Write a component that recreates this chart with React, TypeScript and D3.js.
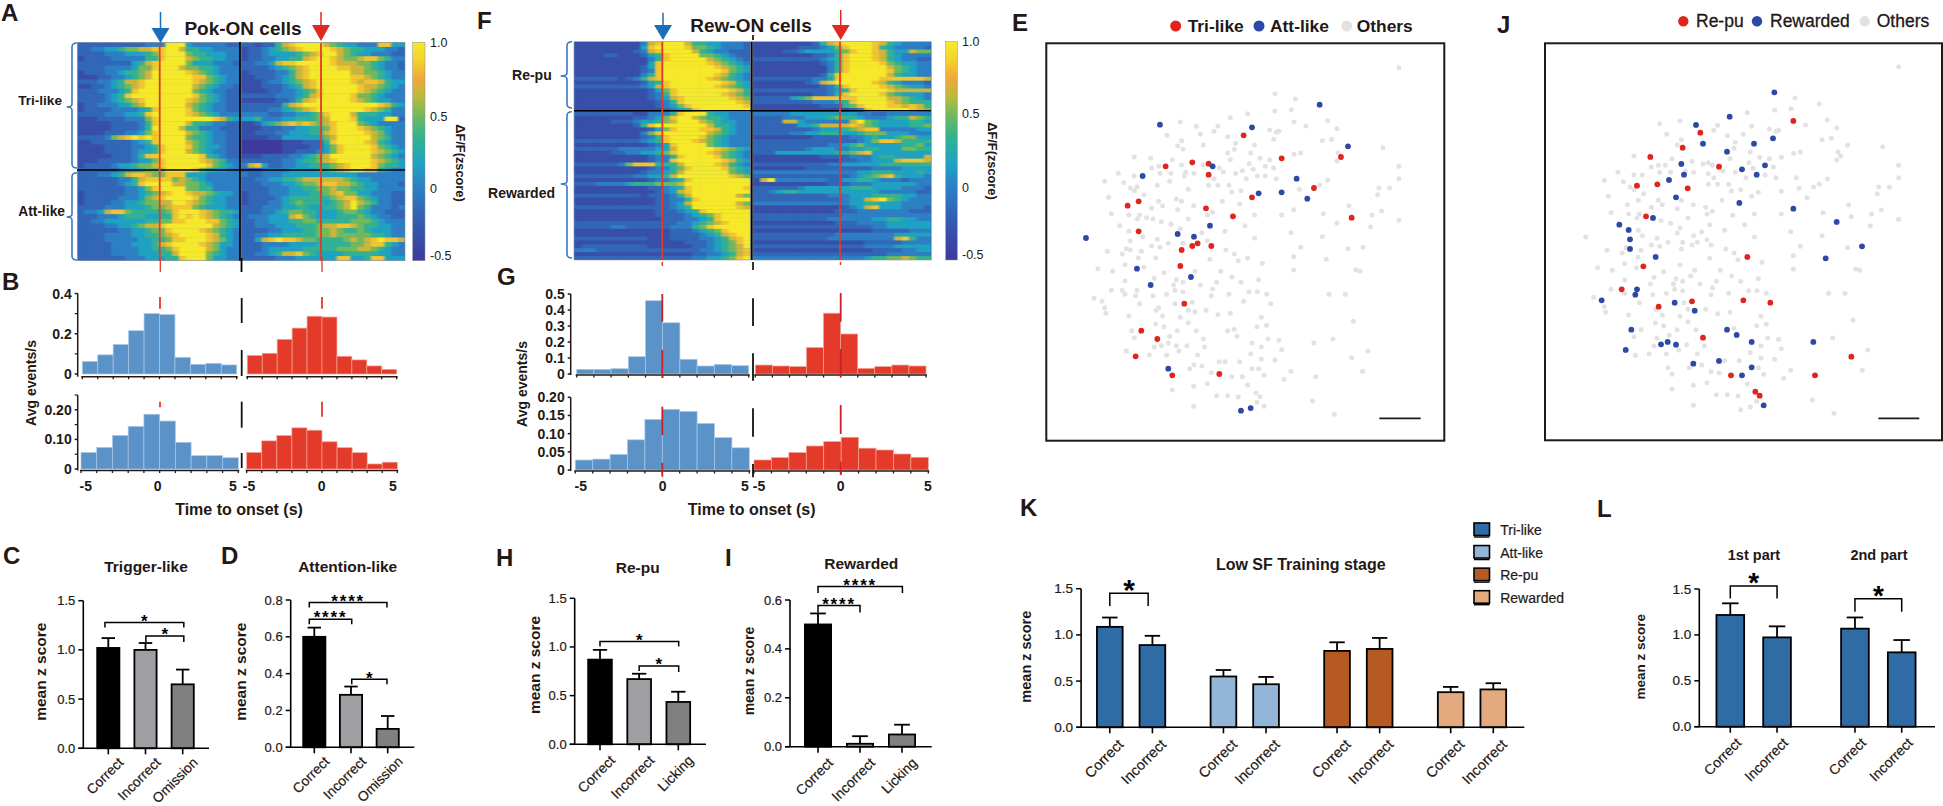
import React from "react";
import * as d3 from "d3";

const ink = "#231815";
const braceBlue = "#3a7cbc";
const histBlue = "#5b93c8";
const histRed = "#e43a2a";
const dotRed = "#e0251e";
const dotBlue = "#2b4aa8";
const dotGray = "#e2e2e2";

// Heatmaps: one character per time bin, 0 = -0.5 ... 9 = 1.0 zscore
const pokLeft = [
"222222222233399943333322","223344566778899755443333","222233344456899965544433","122223333355899976554433",
"222222224578999964443332","222233334668999766554333","122233455679999987654333","111223345679999998865433",
"222334577899999998765433","112234567899999997654332","222333458999999996543322","222234589999999998654322",
"222234567899999987654322","122333446799999976543322","122223333458999986543322","222233344589999987654333",
"111222233368999999998754","111112222358999975543322","111112222359999755333222","111122233468999976543322",
"222236789898999965543322","112222223458999976543322","111122223345899986544322","111122223445899976543322",
"111112223588999999854322","111222223446899999876533","122223445667899999986543","222222344566799998654433",
"222334578876688844433333","222222335788886765433333","222222345899997766543333","222222233468999966553333",
"122222233456789987765443","122222333467899998654433","122223344566779987654433","222233344456678886544433",
"233478865555568999876554","222333455544558989876543","223344444455668899988654","222233445677899999997654",
"222222334456689999876543","222233334455678999987543","222233333445568899987643","222223334445789999876443",
"222223333445568999976433","222223333444557999965433","222222233344455899964433"];
const pokRight = [
"221225789999765443338844","122345678999987655444332","122344445678997654433322","122334455789987667886533",
"223347889999987776654332","222234567899998877654332","122223357899999977665433","112223457899999988765433",
"111233456789999987887544","111222345789999998776543","111122334568999998765433","222223334578999986654333",
"111112235789999987654433","222222578999999999998754","222233456789999999876533","333322334456899975554433",
"445333445556799985444992","112456787876789996543333","111222334455689998765433","112223344455789999876433",
"111122444444679999976533","000000111222589999875433","000000111122468999986543","000000112223468999987654",
"111222233456799999976543","222222334556789999987654","378422334455567899986554","222333344445567899885433",
"322333444444444443333333","223344556777777654433333","222333445667887765443332","222233344556676655443333",
"122233344455678664433322","122223455555567886543322","122233456555456797653322","222333445544556796533323",
"222334566554445665433222","233344478654445556543322","223344455665555566654333","223334445556778876554433",
"222233444556676556544433","223344555556676666655433","224789887665555676789887","222333344445555566788543",
"222344444555556667765433","223345778654444555554433","222223334444448844588444"];
const rewLeft = [
"111111111378999755443332","111111111489999866543332","111111112378999975433222","111122111245899996654322",
"111111111135899999765432","111111111148999999876543","111111111248999999987654","111111111238999999998654",
"111111111358999999987543","222222123578999999876543","111111111245899999998754","222222222347899999987654",
"111111111124689999999875","111111111123589999998765","111111111123478999999876","111111111112358999999987",
"111111111112346899999998","111111111111234589999999","222222221133358999544333","111111112234689976554333",
"111112223445679997654433","111111112589999999755433","111111111124689998875433","111111111368999999765433",
"111111111235899998654333","222222222345899987654333","111111111123489999654333","222222333334479999987654",
"111112233445689999876543","111111111123358999986543","111111111123389999998754","222222368885557999987543",
"111111111123356899998654","111111111233457999999654","222222223344579999999876","111111111123345899999999",
"222333345556667999999999","111111111122345899999998","111111111112347899999999","222222222122235799999976",
"111111111112233589999999","111111111112234799999976","222222222222234599999987","111111111112223458999999",
"111111111112222345689999","111111111111222334589999","222222222222223345678999","222223322222233356899999",
"111111111111122234568999","111111111111122223457899","222222222211122223345789","111111111111111222345689",
"122222222211111122345679","333222222222222223345678","111111111111111122334578","222222222222222233445689"];
const rewRight = [
"111111112578999987543333","111111222346899985433332","111122344445689987544766","111111112235899987543333",
"222222222345899987543322","111111111235899998654433","111111111135899999765433","111111111135899999865433",
"111111111258999999754433","222222223348999998888887","111111123789999987543332","111111111235899998765443",
"222222222234589999877777","111111112235899998654443","222224568888889999776543","222222223334589999876555",
"111111111222568999887875","111111111111123899999876","333334444444443322333333","222233344456554333455765",
"222277433333379654444554","222222445777787654444556","222222223444567883333344","222223344555445666444333",
"111111112222233454456644","222222222222223468875555","222222222233456444445564","222222234443344554446655",
"222444444445567844444444","111111111222233345544447","111111111111223344478887","222222222233444445555555",
"111111122222222233334444","333333333333334455544454","222222222222234567854443","179333333322445543332333",
"111111111122233344444433","222222344444455544443332","223455444444444443333322","222222222233344455554433",
"222222222222344789654333","333333333333344554443333","111111111111234784443332","111111111112223333333222",
"222222222222333333333333","222222222233333344554433","111111111112223333444444","222222222222222233444444",
"111111111111111122222333","222222222223333333344444","222222222233333333378533","111111111111111222223333",
"222222222222222333344444","111111111111111122223344","222222222222222222333333","333333333333333455667655"];

const cbValues = [-0.5, -0.25, 0, 0.17, 0.35, 0.5, 0.62, 0.75, 0.87, 1];
const cbColors = ["#3e3a9c", "#3559b0", "#2d7fc4", "#1fa3c2", "#34b38d", "#72b95c", "#b8bb3c", "#f0a93a", "#f3d12c", "#f5e92a"];
const cbTickLabels = ["1.0", "0.5", "0", "-0.5"];

// Event rates in 1 s bins from -5 to 5
const binStarts = [-5, -4, -3, -2, -1, 0, 1, 2, 3, 4];
const pokTopCorrect = [0.062, 0.095, 0.147, 0.215, 0.3, 0.295, 0.083, 0.048, 0.053, 0.045];
const pokTopReward = [0.092, 0.103, 0.172, 0.228, 0.287, 0.283, 0.088, 0.07, 0.04, 0.023];
const pokBotCorrect = [0.056, 0.073, 0.113, 0.144, 0.185, 0.162, 0.09, 0.045, 0.045, 0.038];
const pokBotReward = [0.056, 0.095, 0.113, 0.139, 0.131, 0.092, 0.072, 0.055, 0.017, 0.023];
const rewTopCorrect = [0.029, 0.029, 0.033, 0.108, 0.458, 0.32, 0.092, 0.05, 0.06, 0.052];
const rewTopReward = [0.056, 0.05, 0.046, 0.165, 0.38, 0.25, 0.035, 0.046, 0.056, 0.05];
const rewBotCorrect = [0.0275, 0.03, 0.043, 0.083, 0.139, 0.167, 0.161, 0.128, 0.089, 0.061];
const rewBotReward = [0.0275, 0.034, 0.048, 0.066, 0.078, 0.09, 0.06, 0.055, 0.044, 0.035];

// Bar panels
const grayFills = ["#000000", "#9d9fa3", "#808080"];
const labelsOmission = ["Correct", "Incorrect", "Omission"];
const labelsLicking = ["Correct", "Incorrect", "Licking"];
const cMeans = [1.02, 1.0, 0.65], cTops = [1.12, 1.07, 0.8];
const dMeans = [0.6, 0.285, 0.1], dTops = [0.65, 0.33, 0.17];
const hMeans = [0.87, 0.67, 0.435], hTops = [0.97, 0.725, 0.54];
const iMeans = [0.5, 0.012, 0.05], iTops = [0.545, 0.043, 0.09];
const kMeans = [1.087, 0.89, 0.55, 0.466, 0.827, 0.848, 0.38, 0.41];
const kTops = [1.188, 0.99, 0.62, 0.545, 0.92, 0.967, 0.437, 0.477];
const kFills = ["#2f6ba4", "#2f6ba4", "#93b6d8", "#93b6d8", "#b55a22", "#b55a22", "#e3aa80", "#e3aa80"];
const kLabels = ["Correct", "Incorrect", "Correct", "Incorrect", "Correct", "Incorrect", "Correct", "Incorrect"];
const kLegend = ["Tri-like", "Att-like", "Re-pu", "Rewarded"];
const kLegendFills = ["#2f6ba4", "#93b6d8", "#b55a22", "#e3aa80"];
const lMeans = [1.217, 0.973, 1.068, 0.81], lTops = [1.344, 1.093, 1.19, 0.944];
const lLabels = ["Correct", "Incorrect", "Correct", "Incorrect"];
const lFills = ["#2f6ba4", "#2f6ba4", "#2f6ba4", "#2f6ba4"];

// Cell map, in read-off units
const otherCells: [number, number][] = [
[1197,203],[825,281],[886,297],[825,333],[874,329],[743,341],[691,353],[541,366],[589,379],[654,379],[882,366],[918,378],[983,362],[1011,386],[809,390],[829,397],[837,394],[642,394],[601,402],[501,406],[683,410],[821,418],[967,422],[995,418],[545,422],[533,438],[549,448],[610,435],[707,430],[703,448],[764,435],[1149,443],[683,459],[752,459],[882,463],[902,459],[403,471],[452,475],[517,479],[691,479],[780,475],[809,479],[1015,459],[1011,483],[476,499],[455,504],[545,495],[610,495],[748,491],[796,499],[821,504],[760,508],[1197,499],[355,520],[403,528],[480,520],[513,520],[557,516],[553,528],[582,520],[658,504],[670,516],[707,520],[727,512],[772,528],[796,528],[739,536],[829,536],[642,536],[983,540],[1197,536],[314,544],[371,548],[509,544],[472,556],[626,556],[654,556],[687,556],[959,556],[391,564],[411,560],[403,572],[565,568],[695,576],[723,572],[898,568],[1137,564],[1169,564],[1133,584],[432,584],[326,592],[529,596],[545,604],[476,604],[488,617],[667,604],[719,612],[1047,617],[455,625],[533,629],[581,617],[638,637],[881,629],[1145,633],[334,641],[387,645],[419,645],[412,657],[440,653],[459,657],[484,665],[565,657],[622,645],[764,645],[845,645],[970,641],[1116,645],[1197,661],[1011,669],[359,677],[513,673],[735,677],[1112,681],[387,694],[541,686],[606,698],[675,694],[873,698],[428,710],[472,718],[391,722],[505,730],[549,730],[622,722],[764,714],[967,710],[455,738],[480,742],[379,746],[391,750],[322,754],[424,754],[678,750],[902,742],[1044,746],[1089,742],[367,762],[703,762],[415,774],[467,774],[630,778],[715,782],[743,774],[881,770],[979,778],[375,794],[432,802],[294,806],[338,814],[492,818],[585,814],[662,814],[787,790],[881,810],[1068,810],[1080,814],[463,835],[375,843],[529,839],[696,831],[776,839],[549,847],[521,855],[601,855],[650,847],[723,847],[638,867],[334,871],[367,871],[411,871],[375,883],[407,887],[459,887],[525,871],[549,875],[500,883],[634,887],[687,883],[747,875],[772,875],[800,883],[987,883],[1036,883],[282,895],[306,904],[731,904],[419,911],[525,911],[577,907],[812,911],[314,923],[476,923],[468,931],[565,931],[585,935],[618,931],[318,940],[387,948],[488,948],[541,952],[654,944],[691,940],[784,952],[565,968],[467,972],[492,980],[771,980],[800,976],[1060,964],[395,992],[532,992],[589,992],[683,992],[703,988],[403,1013],[509,1009],[610,1017],[711,1009],[804,1017],[837,1021],[999,1017],[505,1029],[756,1029],[942,1029],[484,1037],[463,1041],[529,1037],[561,1037],[614,1041],[784,1041],[379,1053],[537,1053],[845,1049],[1104,1053],[448,1065],[500,1065],[593,1065],[752,1061],[1055,1073],[784,1077],[825,1081],[658,1085],[675,1085],[719,1085],[582,1094],[606,1098],[569,1106],[756,1106],[776,1106],[634,1118],[873,1114],[1088,1114],[695,1130],[727,1130],[792,1126],[947,1130],[852,1138],[622,1151],[743,1155],[581,1159],[517,1170],[768,1179],[650,1187],[683,1187],[715,1191],[780,1190],[771,1207],[938,1203],[581,1219],[792,1219],[1003,1243]];
const triCells: [number, number][] = [[731,406],[497,499],[577,487],[626,491],[626,524],[845,475],[1023,471],[942,564],[756,592],[416,604],[383,617],[618,625],[699,649],[1055,653],[416,694],[593,730],[577,738],[634,738],[545,750],[541,798],[553,911],[424,992],[472,1017],[407,1069],[517,1126],[658,1122]];
const attCells: [number, number][] = [[959,314],[480,374],[756,382],[1044,439],[638,499],[428,528],[890,536],[776,580],[845,577],[922,596],[630,677],[533,702],[582,710],[258,714],[411,806],[573,831],[452,855],[505,1106],[723,1232],[752,1224]];
const repuCells: [number, number][] = [[910,363],[631,398],[578,443],[481,471],[687,500],[441,557],[502,553],[593,565],[468,649],[460,799],[772,771],[395,868],[506,920],[606,904],[760,901],[841,908],[639,1013],[1084,1070],[723,1126],[975,1126],[796,1175],[809,1187]];
const rewardedCells: [number, number][] = [[853,277],[719,350],[618,375],[849,415],[639,431],[792,431],[711,455],[574,492],[825,496],[582,524],[756,508],[800,524],[537,540],[558,592],[748,609],[910,626],[489,654],[388,674],[416,690],[1040,666],[420,718],[420,747],[497,771],[1116,739],[1007,775],[441,868],[436,884],[335,901],[554,908],[614,932],[424,989],[711,989],[740,1005],[785,1026],[970,1026],[513,1033],[533,1026],[558,1034],[407,1050],[687,1083],[610,1091],[785,1102],[756,1126],[821,1216]];

const heatColor = d3.scaleLinear<string>().domain(cbValues).range(cbColors).interpolate(d3.interpolateRgb);
const digitValue = d3.scaleLinear().domain([0, 9]).range([-0.5, 1]);

function T({ x, y, children, size = 13, weight = "normal", anchor = "start", rotate, fill = ink, mid = true, thick = 0 }: any) {
  return (
    <text x={rotate == null ? x : 0} y={rotate == null ? y : 0}
      transform={rotate == null ? undefined : `translate(${x},${y}) rotate(${rotate})`}
      fontSize={size} fontWeight={weight} textAnchor={anchor} fill={fill}
      stroke={thick ? fill : undefined} strokeWidth={thick || undefined}
      dominantBaseline={mid ? "central" : undefined}>{children}</text>
  );
}

function Letter({ x, y, c }: any) {
  return <text x={x} y={y} fontSize={24} fontWeight="bold" fill={ink}>{c}</text>;
}

function Heat({ rows, x0, x1, y0, y1, id }: any) {
  const col = d3.scaleBand<number>().domain(d3.range(24)).range([x0, x1]);
  const row = d3.scaleBand<number>().domain(d3.range(rows.length)).range([y0, y1]);
  return (
    <g>
      <clipPath id={id}><rect x={x0} y={y0} width={x1 - x0} height={y1 - y0} /></clipPath>
      <g clipPath={`url(#${id})`}>
        <rect x={x0} y={y0} width={x1 - x0} height={y1 - y0} fill="#2d6fbc" />
        <g filter="url(#smooth)">
          {rows.map((r: string, i: number) =>
            r.slice(0, 24).split("").map((c, j) => (
              <rect key={`${i}-${j}`} x={col(j)} y={row(i)} width={col.bandwidth() + 0.6} height={row.bandwidth() + 0.4}
                fill={heatColor(digitValue(+c))} />
            )))}
        </g>
      </g>
      <rect x={x0} y={y0} width={x1 - x0} height={y1 - y0} fill="none" stroke="#8a8f98" strokeWidth={0.6} />
    </g>
  );
}

function Colorbar({ x, w, y0, y1, labelYs, labelX, id }: any) {
  return (
    <g>
      <linearGradient id={id} x1="0" x2="0" y1="1" y2="0">
        {cbValues.map((v) => (
          <stop key={v} offset={(v + 0.5) / 1.5} stopColor={heatColor(v)} />
        ))}
      </linearGradient>
      <rect x={x} y={y0} width={w} height={y1 - y0} fill={`url(#${id})`} stroke="#8a8f98" strokeWidth={0.5} />
      {cbTickLabels.map((t, i) => (
        <T key={t} x={labelX} y={labelYs[i]} size={12.5}>{t}</T>
      ))}
    </g>
  );
}

function Brace({ x, tip, y0, y1, ym }: any) {
  const r = 3;
  const m = x - 5;
  const d = `M${x},${y0} Q${m},${y0} ${m},${y0 + r + 1} L${m},${ym - r} Q${m},${ym} ${tip},${ym} Q${m},${ym} ${m},${ym + r} L${m},${y1 - r - 1} Q${m},${y1} ${x},${y1}`;
  return <path d={d} fill="none" stroke={braceBlue} strokeWidth={1.6} />;
}

function Arrow({ x, y0, y1, y2, color }: any) {
  return (
    <g>
      <line x1={x} x2={x} y1={y0} y2={y1} stroke={color} strokeWidth={1.5} />
      <path d={`M${x - 9},${y1} L${x + 9},${y1} L${x},${y2} Z`} fill={color} />
    </g>
  );
}

function Hist({ values, x0, x1, yTop, yBase, max, fill, axisY, axisX, ticks, minor, fmt, tickSize = 14, xLabels, labelY, edge }: any) {
  const x = d3.scaleLinear().domain([-5, 5]).range([x0, x1]);
  const y = d3.scaleLinear().domain([0, max]).range([yBase, yTop]);
  return (
    <g>
      {values.map((v: number, i: number) => (
        <rect key={i} x={x(binStarts[i])} y={y(v)} width={x(binStarts[i] + 1) - x(binStarts[i])} height={yBase - y(v)}
          fill={fill} stroke={edge} strokeWidth={0.7} />
      ))}
      <line x1={x0 - 1} x2={x1 + 1} y1={axisY} y2={axisY} stroke={ink} strokeWidth={1.5} />
      {d3.range(-5, 6).map((t) => (
        <line key={t} x1={x(t)} x2={x(t)} y1={axisY} y2={axisY + 2.5} stroke={ink} strokeWidth={1.3} />
      ))}
      {axisX != null && (
        <g>
          <line x1={axisX} x2={axisX} y1={y(max)} y2={axisY} stroke={ink} strokeWidth={1.5} />
          {ticks.map((t: number) => (
            <g key={t}>
              <line x1={axisX - 3} x2={axisX} y1={y(t)} y2={y(t)} stroke={ink} strokeWidth={1.5} />
              <T x={axisX - 6} y={y(t)} anchor="end" size={tickSize} weight="bold">{fmt(t)}</T>
            </g>
          ))}
          {(minor || []).map((t: number) => (
            <line key={t} x1={axisX - 3} x2={axisX} y1={y(t)} y2={y(t)} stroke={ink} strokeWidth={1.2} />
          ))}
        </g>
      )}
      {xLabels && xLabels.map(([t, lx]: [string, number]) => (
        <T key={t} x={lx} y={labelY} anchor="middle" size={14} weight="bold">{t}</T>
      ))}
    </g>
  );
}

function Bars({ axisX, axisEnd, y0, y1, max, ticks, fmt = (d: number) => d.toFixed(1), pos, x0, x1, means, tops, fills, labels, barW,
  brackets = [], size = 13, labelSize = 14, labelDx = 16, labelDy = 17, starSize = 17, starDy = -5, axisStart }: any) {
  const x = d3.scaleLinear().domain([0, d3.max(pos) as number]).range([x0, x1]);
  const y = d3.scaleLinear().domain([0, max]).range([y0, y1]);
  return (
    <g>
      {means.map((m: number, i: number) => {
        const cx = x(pos[i]);
        return (
          <g key={i}>
            <line x1={cx} x2={cx} y1={y(m)} y2={y(tops[i])} stroke="#000" strokeWidth={1.8} />
            <line x1={cx - barW * 0.28} x2={cx + barW * 0.28} y1={y(tops[i])} y2={y(tops[i])} stroke="#000" strokeWidth={1.8} />
            <rect x={cx - barW / 2 + 0.9} y={y(m)} width={barW - 1.8} height={Math.max(y0 - y(m), 0)} fill={fills[i]} stroke="#000" strokeWidth={1.8} />
            <line x1={cx} x2={cx} y1={y0} y2={y0 + 6} stroke="#000" strokeWidth={1.6} />
            <T x={cx + labelDx} y={y0 + labelDy} anchor="end" size={labelSize} rotate={-45} mid={false} thick={0.2}>{labels[i]}</T>
          </g>
        );
      })}
      <line x1={axisX} x2={axisX} y1={y0} y2={y(max)} stroke="#000" strokeWidth={1.6} />
      <line x1={axisStart ?? axisX - 5} x2={axisEnd} y1={y0} y2={y0} stroke="#000" strokeWidth={1.6} />
      {ticks.map((t: number) => (
        <g key={t}>
          <line x1={axisX - 5} x2={axisX} y1={y(t)} y2={y(t)} stroke="#000" strokeWidth={1.5} />
          <T x={axisX - 8} y={y(t)} anchor="end" size={size} thick={0.2}>{fmt(t)}</T>
        </g>
      ))}
      {brackets.map((b: any, i: number) => {
        const xa = x(b.a), xb = x(b.b), yy = y(b.y);
        return (
          <g key={i}>
            <path d={`M${xa},${yy + b.tipL} L${xa},${yy} L${xb},${yy} L${xb},${yy + b.tipR}`} fill="none" stroke="#000" strokeWidth={1.5} />
            <text x={(xa + xb) / 2} y={yy + starDy + starSize * 0.55} textAnchor="middle" fontSize={starSize} fontWeight="bold" letterSpacing={b.stars.length > 1 ? 1.8 : 0} fill="#000">{b.stars}</text>
          </g>
        );
      })}
    </g>
  );
}

function Scatter({ xs, ys, cells, r, fill }: any) {
  return (
    <g>
      {cells.map(([a, b]: [number, number], i: number) => (
        <circle key={i} cx={xs(a)} cy={ys(b)} r={r} fill={fill} />
      ))}
    </g>
  );
}

function Box({ x0, x1, y0, y1, barX0, barX1, barY }: any) {
  return (
    <g>
      <rect x={x0} y={y0} width={x1 - x0} height={y1 - y0} fill="none" stroke={ink} strokeWidth={2} />
      <line x1={barX0} x2={barX1} y1={barY} y2={barY} stroke={ink} strokeWidth={1.8} />
    </g>
  );
}

const fmt1 = (d: number) => (d === 0 ? "0" : d.toFixed(1));
const fmt2 = (d: number) => (d === 0 ? "0" : d.toFixed(2));

export default function App() {
  const ex = d3.scaleLinear().domain([139, 1333]).range([1046.3, 1444.3]);
  const ey = d3.scaleLinear().domain([130, 1322]).range([43.3, 440.7]);
  const jx = d3.scaleLinear().domain([165, 1356]).range([1545, 1942]);
  const jy = d3.scaleLinear().domain([130, 1321]).range([43.3, 440.3]);
  const jgx = d3.scaleLinear().domain([136, 1327]).range([1545, 1942]);
  const jgy = d3.scaleLinear().domain([133, 1324]).range([43.3, 440.3]);
  const ly = d3.scaleLinear().domain([0, 3]).range([530, 597.7]);
  const red = "#e23a2a";
  const darkRed = "#c9202a";
  return (
    <svg width={1943} height={806} viewBox="0 0 1943 806"
      style={{ position: "absolute", left: 0, top: 0, display: "block", background: "#fff", fontFamily: "'Liberation Sans', Arial, sans-serif" }}>
      <defs>
        <filter id="smooth" x="-5%" y="-5%" width="110%" height="110%" colorInterpolationFilters="sRGB">
          <feGaussianBlur stdDeviation="1.2 0.4" />
        </filter>
      </defs>

      {/* A */}
      <Letter x={1} y={21} c="A" />
      <Heat id="h1" rows={pokLeft} x0={77.3} x1={239.7} y0={42.3} y1={260.7} />
      <Heat id="h2" rows={pokRight} x0={241} x1={405} y0={42.3} y1={260.7} />
      <line x1={77} x2={405} y1={170} y2={170} stroke="#000" strokeWidth={1.6} />
      <line x1={240} x2={240} y1={42} y2={260.7} stroke="#000" strokeWidth={1.8} />
      <line x1={241.5} x2={241.5} y1={258} y2={272} stroke="#000" strokeWidth={1.8} />
      <line x1={159.7} x2={159.7} y1={43} y2={260.7} stroke={red} strokeWidth={1.8} />
      <line x1={160.3} x2={160.3} y1={257} y2={272} stroke={red} strokeWidth={1.3} />
      <line x1={321} x2={321} y1={43} y2={260.7} stroke={red} strokeWidth={1.8} />
      <line x1={322} x2={322} y1={257} y2={272} stroke={red} strokeWidth={1.3} />
      <Arrow x={160.5} y0={12} y1={28} y2={43} color="#1a6fb8" />
      <Arrow x={321} y0={12} y1={25} y2={41} color="#e02a20" />
      <T x={243} y={28} anchor="middle" size={19} weight="bold">Pok-ON cells</T>
      <Colorbar id="cb1" x={412.7} w={12.3} y0={42.3} y1={260.7} labelX={430} labelYs={[43, 117, 189, 256]} />
      <T x={460} y={163} anchor="middle" size={12.8} weight="bold" rotate={90}>ΔF/F(zscore)</T>
      <Brace x={77} tip={66.7} y0={43} y1={168} ym={107} />
      <Brace x={77} tip={66.7} y0={172.7} y1={260} ym={217} />
      <T x={62} y={100} anchor="end" size={13.6} weight="bold">Tri-like</T>
      <T x={65} y={211} anchor="end" size={13.8} weight="bold">Att-like</T>

      {/* B */}
      <Letter x={2} y={290} c="B" />
      <Hist values={pokTopCorrect} x0={82.3} x1={236.7} yTop={293.5} yBase={374} max={0.4} fill={histBlue} edge="#a9c8e6" axisY={376.7} axisX={77.7} ticks={[0, 0.2, 0.4]} minor={[0.1, 0.3]} fmt={fmt1} />
      <Hist values={pokTopReward} x0={247.3} x1={396.7} yTop={293.5} yBase={374} max={0.4} fill={histRed} edge="#f2a296" axisY={376.7} />
      <Hist values={pokBotCorrect} x0={81} x1={238.3} yTop={395} yBase={469} max={0.25} fill={histBlue} edge="#a9c8e6" axisY={470.5} axisX={77.7} ticks={[0, 0.1, 0.2]} minor={[0.05, 0.15, 0.25]} fmt={fmt2}
        xLabels={[["-5", 85.7], ["0", 157.7], ["5", 233]]} labelY={486} />
      <Hist values={pokBotReward} x0={246.7} x1={397.3} yTop={395} yBase={469} max={0.25} fill={histRed} edge="#f2a296" axisY={470.5}
        xLabels={[["-5", 249], ["0", 321.7], ["5", 393]]} labelY={486} />
      {[[297, 308.7, 160], [297, 308.7, 322], [401.7, 407.3, 160], [401.7, 416.7, 322]].map(([a, b, x], i) => (
        <line key={i} x1={x} x2={x} y1={a} y2={b} stroke={red} strokeWidth={1.8} />
      ))}
      {[[298, 323], [350, 376], [401.7, 427.7], [453, 468]].map(([a, b], i) => (
        <line key={i} x1={241.7} x2={241.7} y1={a} y2={b} stroke="#111" strokeWidth={1.8} />
      ))}
      <T x={31} y={383} anchor="middle" size={14} weight="bold" rotate={-90}>Avg events/s</T>
      <T x={239} y={509} anchor="middle" size={16} weight="bold">Time to onset (s)</T>

      {/* C */}
      <Letter x={3} y={564} c="C" />
      <T x={146} y={566.7} anchor="middle" size={15.5} weight="bold">Trigger-like</T>
      <T x={40} y={671.7} anchor="middle" size={15.5} weight="bold" rotate={-90}>mean z score</T>
      <Bars axisX={83.3} axisEnd={209} y0={748.3} y1={600.7} max={1.5} ticks={[0, 0.5, 1, 1.5]} pos={[0, 1, 2]} x0={108.3} x1={182.7}
        means={cMeans} tops={cTops} fills={grayFills} labels={labelsOmission} barW={24} labelSize={13.8} labelDy={15}
        brackets={[{ a: -0.09, b: 2.03, y: 1.278, tipL: 5, tipR: 5, stars: "*" }, { a: 1.01, b: 2.03, y: 1.142, tipL: 6, tipR: 6, stars: "*" }]} />

      {/* D */}
      <Letter x={221} y={564} c="D" />
      <T x={347.7} y={566.7} anchor="middle" size={15.5} weight="bold">Attention-like</T>
      <T x={240} y={671.7} anchor="middle" size={15.5} weight="bold" rotate={-90}>mean z score</T>
      <Bars axisX={290.7} axisEnd={414.3} y0={747.3} y1={600} max={0.8} ticks={[0, 0.2, 0.4, 0.6, 0.8]} pos={[0, 1, 2]} x0={314.3} x1={387.7}
        means={dMeans} tops={dTops} fills={grayFills} labels={labelsOmission} barW={24} labelSize={13.8} labelDy={15}
        brackets={[{ a: -0.136, b: 1.98, y: 0.786, tipL: 5, tipR: 5, stars: "****" }, { a: -0.136, b: 1.02, y: 0.696, tipL: 5, tipR: 5, stars: "****" }, { a: 1.02, b: 1.98, y: 0.37, tipL: 5, tipR: 5, stars: "*" }]} />

      {/* F */}
      <Letter x={477} y={29} c="F" />
      <Heat id="h3" rows={rewLeft} x0={574} x1={750.7} y0={41.7} y1={260} />
      <Heat id="h4" rows={rewRight} x0={752.7} x1={931.3} y0={41.7} y1={260} />
      <line x1={574} x2={931} y1={110.7} y2={110.7} stroke="#000" strokeWidth={1.5} />
      <line x1={751.7} x2={751.7} y1={41.7} y2={260} stroke="#000" strokeWidth={1.8} />
      <line x1={753} x2={753} y1={35} y2={40} stroke="#000" strokeWidth={1.6} />
      <line x1={753} x2={753} y1={262} y2={270} stroke="#000" strokeWidth={1.6} />
      <line x1={662.3} x2={662.3} y1={41.7} y2={260} stroke={red} strokeWidth={1.8} />
      <line x1={840} x2={840} y1={41.7} y2={260} stroke={red} strokeWidth={1.8} />
      <line x1={662.3} x2={662.3} y1={262} y2={266} stroke={red} strokeWidth={1.5} />
      <line x1={840.5} x2={840.5} y1={262} y2={265} stroke={red} strokeWidth={1.5} />
      <Arrow x={663} y0={12.7} y1={25} y2={40} color="#1a6fb8" />
      <Arrow x={840.7} y0={10} y1={25} y2={40} color="#e02a20" />
      <T x={751} y={25} anchor="middle" size={19} weight="bold">Rew-ON cells</T>
      <Colorbar id="cb2" x={945.7} w={11.6} y0={41.7} y1={260} labelX={962} labelYs={[42, 114, 188, 255]} />
      <T x={992.7} y={161} anchor="middle" size={12.8} weight="bold" rotate={90}>ΔF/F(zscore)</T>
      <Brace x={572} tip={560.7} y0={41.7} y1={108} ym={76} />
      <Brace x={572} tip={560.7} y0={111.7} y1={258} ym={184} />
      <T x={551.7} y={75} anchor="end" size={14} weight="bold">Re-pu</T>
      <T x={555} y={192.7} anchor="end" size={14} weight="bold">Rewarded</T>

      {/* G */}
      <Letter x={497} y={285} c="G" />
      <Hist values={rewTopCorrect} x0={576.7} x1={748.7} yTop={294} yBase={374} max={0.5} fill={histBlue} edge="#a9c8e6" axisY={375} axisX={570.7} ticks={[0, 0.1, 0.2, 0.3, 0.4, 0.5]} fmt={fmt1} />
      <Hist values={rewTopReward} x0={755.3} x1={926} yTop={294} yBase={374} max={0.5} fill={histRed} edge="#f2a296" axisY={375} />
      <Hist values={rewBotCorrect} x0={575.3} x1={749.3} yTop={397.3} yBase={470} max={0.2} fill={histBlue} edge="#a9c8e6" axisY={471} axisX={570.7} ticks={[0, 0.05, 0.1, 0.15, 0.2]} fmt={fmt2}
        xLabels={[["-5", 580.7], ["0", 662.7], ["5", 745]]} labelY={486} />
      <Hist values={rewBotReward} x0={754} x1={928.3} yTop={397.3} yBase={470} max={0.2} fill={histRed} edge="#f2a296" axisY={471}
        xLabels={[["-5", 759], ["0", 840.7], ["5", 928]]} labelY={486} />
      {[[294, 321.7, 662.3], [350, 378, 662.3], [406.7, 435, 662.3], [462.7, 476.7, 662.3], [293, 321.7, 840.7], [349, 377, 840.7], [405, 434, 840.7], [461.7, 475, 840.7]].map(([a, b, x], i) => (
        <line key={i} x1={x} x2={x} y1={a} y2={b} stroke={darkRed} strokeWidth={1.8} />
      ))}
      {[[298.3, 326], [353.3, 380.7], [408.3, 436.7], [464, 477.3]].map(([a, b], i) => (
        <line key={i} x1={753} x2={753} y1={a} y2={b} stroke="#111" strokeWidth={1.8} />
      ))}
      <T x={521.7} y={384} anchor="middle" size={14} weight="bold" rotate={-90}>Avg events/s</T>
      <T x={751.7} y={509} anchor="middle" size={16} weight="bold">Time to onset (s)</T>

      {/* H */}
      <Letter x={496} y={566} c="H" />
      <T x={637.7} y={567.7} anchor="middle" size={15.5} weight="bold">Re-pu</T>
      <T x={534.3} y={665} anchor="middle" size={15.5} weight="bold" rotate={-90}>mean z score</T>
      <Bars axisX={574.7} axisEnd={706} y0={744.3} y1={598.3} max={1.5} ticks={[0, 0.5, 1, 1.5]} pos={[0, 1, 2]} x0={600} x1={678.3}
        means={hMeans} tops={hTops} fills={grayFills} labels={labelsLicking} barW={25.5}
        brackets={[{ a: 0, b: 2.01, y: 1.055, tipL: 5, tipR: 5, stars: "*" }, { a: 1, b: 2.01, y: 0.805, tipL: 5, tipR: 6, stars: "*" }]} />

      {/* I */}
      <Letter x={725} y={566} c="I" />
      <T x={861.3} y={563.3} anchor="middle" size={15.5} weight="bold">Rewarded</T>
      <T x={749.3} y={671} anchor="middle" size={14} weight="bold" rotate={-90}>mean z score</T>
      <Bars axisX={790} axisEnd={931.7} y0={746.7} y1={600} max={0.6} ticks={[0, 0.2, 0.4, 0.6]} pos={[0, 1, 2]} x0={818} x1={902}
        means={iMeans} tops={iTops} fills={grayFills} labels={labelsLicking} barW={28}
        brackets={[{ a: 0, b: 2.01, y: 0.655, tipL: 6.5, tipR: 6.5, stars: "****" }, { a: 0, b: 1, y: 0.578, tipL: 7, tipR: 7, stars: "****" }]} />

      {/* E */}
      <Letter x={1012} y={31} c="E" />
      <circle cx={1175.7} cy={26} r={5.5} fill={dotRed} />
      <T x={1187.7} y={25.5} size={17.4} weight="bold">Tri-like</T>
      <circle cx={1259} cy={26} r={5.5} fill={dotBlue} />
      <T x={1270} y={25.5} size={17.4} weight="bold">Att-like</T>
      <circle cx={1346.7} cy={26} r={5.5} fill={dotGray} />
      <T x={1356.7} y={25.5} size={17.4} weight="bold">Others</T>
      <Box x0={1046.3} x1={1444.3} y0={43.3} y1={440.7} barX0={1379.3} barX1={1420.7} barY={418.3} />
      <Scatter xs={ex} ys={ey} cells={otherCells} r={2.5} fill={dotGray} />
      <Scatter xs={ex} ys={ey} cells={triCells} r={2.9} fill={dotRed} />
      <Scatter xs={ex} ys={ey} cells={attCells} r={2.9} fill={dotBlue} />

      {/* J */}
      <Letter x={1497} y={33} c="J" />
      <circle cx={1683.3} cy={21.3} r={5.2} fill={dotRed} />
      <T x={1696} y={21} size={17.5} thick={0.3}>Re-pu</T>
      <circle cx={1757} cy={21.3} r={5.2} fill={dotBlue} />
      <T x={1770} y={21} size={17.5} thick={0.3}>Rewarded</T>
      <circle cx={1864.7} cy={21.3} r={5.2} fill={dotGray} />
      <T x={1876.7} y={21} size={17.5} thick={0.3}>Others</T>
      <Box x0={1545} x1={1942} y0={43.3} y1={440.3} barX0={1878.3} barX1={1919.3} barY={418.3} />
      <Scatter xs={jgx} ys={jgy} cells={otherCells} r={2.5} fill={dotGray} />
      <Scatter xs={jgx} ys={jgy} cells={triCells} r={2.5} fill={dotGray} />
      <Scatter xs={jgx} ys={jgy} cells={attCells} r={2.5} fill={dotGray} />
      <Scatter xs={jx} ys={jy} cells={repuCells} r={2.9} fill={dotRed} />
      <Scatter xs={jx} ys={jy} cells={rewardedCells} r={2.9} fill={dotBlue} />

      {/* K */}
      <Letter x={1020} y={516} c="K" />
      <T x={1300.8} y={564} anchor="middle" size={16} weight="bold">Low SF Training stage</T>
      <T x={1026} y={656.7} anchor="middle" size={14.5} weight="bold" rotate={-90}>mean z score</T>
      <Bars axisX={1081.1} axisEnd={1524.3} y0={727.3} y1={588.7} max={1.5} ticks={[0, 0.5, 1, 1.5]} pos={[0, 1, 2.667, 3.667, 5.333, 6.333, 8, 9]} x0={1109.8} x1={1493.3}
        means={kMeans} tops={kTops} fills={kFills} labels={kLabels} barW={27.5} size={13.5} labelSize={14.5} labelDx={14.6} labelDy={18} starSize={30} starDy={-10}
        brackets={[{ a: 0, b: 0.9, y: 1.451, tipL: 12.7, tipR: 12.7, stars: "*" }]} />
      {kLegend.map((t, i) => (
        <g key={t}>
          <rect x={1474} y={ly(i) - 7} width={15.5} height={12.5} fill={kLegendFills[i]} stroke="#000" strokeWidth={1.6} />
          <line x1={1474} x2={1489.5} y1={ly(i) + 7} y2={ly(i) + 7} stroke="#000" strokeWidth={1.4} />
          <T x={1500.2} y={ly(i)} size={14} thick={0.2}>{t}</T>
        </g>
      ))}

      {/* L */}
      <Letter x={1597} y={517} c="L" />
      <T x={1754} y={555.3} anchor="middle" size={14.5} weight="bold">1st part</T>
      <T x={1879} y={555.3} anchor="middle" size={14.5} weight="bold">2nd part</T>
      <T x={1640} y={656.7} anchor="middle" size={13.5} weight="bold" rotate={-90}>mean z score</T>
      <Bars axisX={1699.3} axisEnd={1935} y0={726.7} y1={589} max={1.5} ticks={[0, 0.5, 1, 1.5]} pos={[0, 1, 2.667, 3.667]} x0={1730.3} x1={1901.7}
        means={lMeans} tops={lTops} fills={lFills} labels={lLabels} barW={29.5} size={13.5} labelSize={14} labelDx={12} labelDy={17} starSize={28} starDy={-9}
        brackets={[{ a: 0, b: 1, y: 1.533, tipL: 12.5, tipR: 12.5, stars: "*" }, { a: 2.667, b: 3.667, y: 1.395, tipL: 13, tipR: 13, stars: "*" }]} />
    </svg>
  );
}
